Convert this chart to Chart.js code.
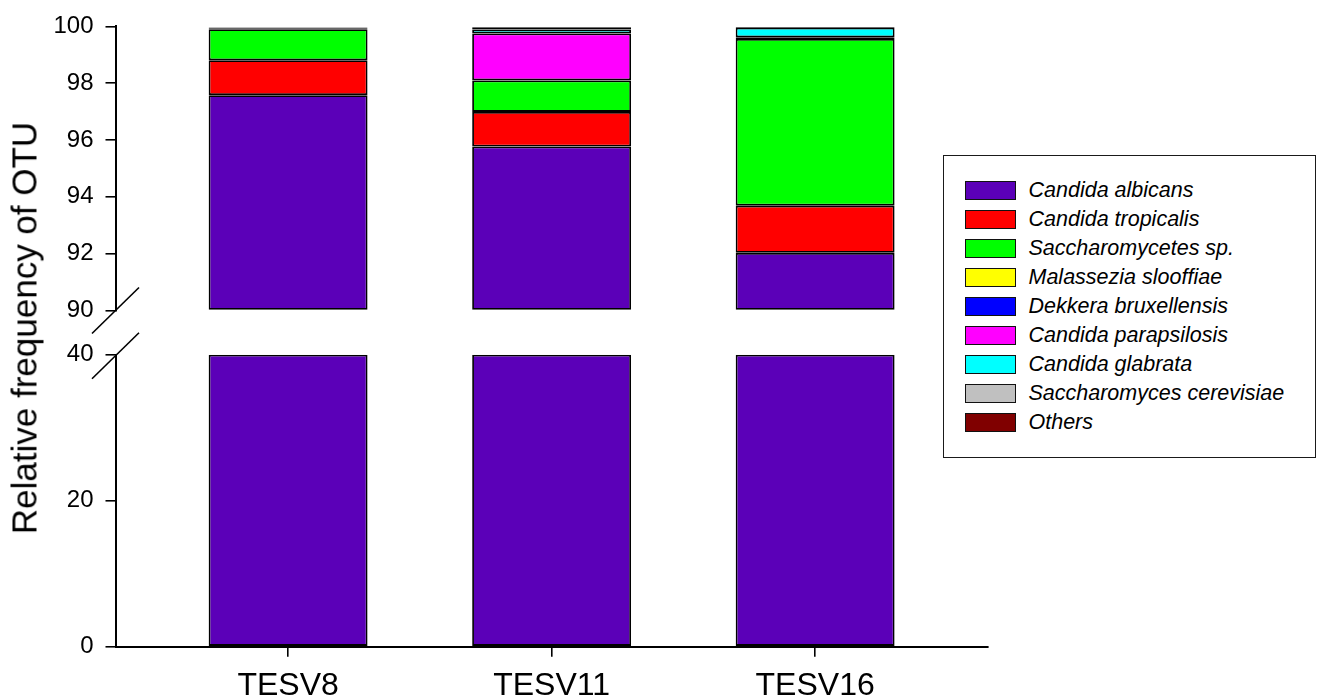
<!DOCTYPE html>
<html>
<head>
<meta charset="utf-8">
<title>Relative frequency of OTU</title>
<script src="https://cdn.jsdelivr.net/npm/chart.js@4.4.1/dist/chart.umd.min.js"></script>
<style>
  html, body { margin: 0; padding: 0; background: #fff; }
  #wrap { position: relative; width: 1322px; height: 699px; overflow: hidden;
          font-family: "Liberation Sans", Arial, sans-serif; color: #000; }
  #wrap canvas { position: absolute; left: 0; top: 0; }
  #ytitle { position: absolute; left: 23.5px; top: 327.5px; white-space: nowrap;
            transform: translate(-50%, -50%) rotate(-90deg); font-size: 35px; line-height: 1; }
  #legend { position: absolute; left: 943px; top: 155px; width: 373px; height: 303px;
            border: 1.5px solid #1a1a1a; box-sizing: border-box; background: #fff; }
  .item { position: absolute; left: 20.5px; height: 19px; display: flex; align-items: center; }
  .sw { width: 51px; height: 19px; border: 1.5px solid #111; box-sizing: border-box; }
  .lab { margin-left: 13px; font-style: italic; font-size: 21.5px; white-space: nowrap; }
</style>
</head>
<body>
<div id="wrap">
  <canvas id="upper" width="1322" height="699"></canvas>
  <canvas id="lower" width="1322" height="699"></canvas>
  <div id="ytitle">Relative frequency of OTU</div>
  <div id="legend"></div>
</div>
<script>
// Samples on the x axis
const categories = ['TESV8', 'TESV11', 'TESV16'];

// Species in stacking order (bottom to top) and their fill colours
const species = [
  'Candida albicans', 'Candida tropicalis', 'Saccharomycetes sp.',
  'Malassezia slooffiae', 'Dekkera bruxellensis', 'Candida parapsilosis',
  'Candida glabrata', 'Saccharomyces cerevisiae', 'Others'
];
const speciesColors = [
  '#5b00b8', '#ff0000', '#00ff00', '#ffff00', '#0000ff',
  '#ff00ff', '#00ffff', '#c0c0c0', '#800000'
];

// Relative frequency (%) per sample
const candidaAlbicans         = [97.58, 95.77, 92.03];
const candidaTropicalis       = [1.23, 1.22, 1.66];
const saccharomycetesSp       = [1.09, 1.11, 5.87];
const malasseziaSlooffiae     = [0, 0, 0];
const dekkeraBruxellensis     = [0, 0, 0.06];
const candidaParapsilosis     = [0, 1.65, 0];
const candidaGlabrata         = [0.02, 0.14, 0.33];
const saccharomycesCerevisiae = [0, 0.02, 0];
const others                  = [0.04, 0.06, 0.03];

const seriesValues = [
  candidaAlbicans, candidaTropicalis, saccharomycetesSp, malasseziaSlooffiae,
  dekkeraBruxellensis, candidaParapsilosis, candidaGlabrata,
  saccharomycesCerevisiae, others
];

// Tick labels of the two segments of the broken y axis
const upperTicks = [90, 92, 94, 96, 98, 100];
const lowerTicks = [0, 20, 40];

Chart.defaults.font.family = '"Liberation Sans", Arial, sans-serif';
Chart.defaults.color = '#000';
Chart.defaults.animation = false;

const FONT_TICK = { size: 24 };
const FONT_CAT = { size: 32 };

// Diagonal break mark across the y axis
const axisBreak = {
  id: 'axisBreak',
  afterDraw(chart, args, opts) {
    const { ctx, chartArea } = chart;
    const x = chartArea.left;
    const y = opts.edge === 'bottom' ? chartArea.bottom : chartArea.top + 1;
    ctx.save();
    ctx.strokeStyle = '#000';
    ctx.lineWidth = 1.6;
    ctx.beginPath();
    ctx.moveTo(x - 23.5, y + 23);
    ctx.lineTo(x + 23.5, y - 23);
    ctx.stroke();
    ctx.restore();
  }
};

const toPoints = arr => arr.map((v, i) => ({ x: i + 1, y: v }));

const xScale = (show) => ({
  type: 'linear',
  min: 0.345,
  max: 3.656,
  offset: false,
  stacked: true,
  display: show,
  afterBuildTicks: s => { s.ticks = categories.map((c, i) => ({ value: i + 1 })); },
  afterFit: s => { if (show) s.height = 52.3; },
  ticks: {
    font: FONT_CAT,
    padding: 10,
    maxRotation: 0,
    autoSkip: false,
    callback: v => categories[v - 1]
  },
  grid: {
    offset: false,
    drawOnChartArea: false,
    drawTicks: true,
    tickLength: 10,
    color: '#000',
    lineWidth: 1.6
  },
  border: { display: true, color: '#000', width: 2 }
});

const yScale = (min, max, ticksArr, stacked) => ({
  min, max, stacked,
  afterBuildTicks: s => { s.ticks = ticksArr.map(v => ({ value: v })); },
  afterFit: s => { s.width = 115.5; },
  ticks: { font: FONT_TICK, padding: 12 },
  grid: {
    drawOnChartArea: false,
    drawTicks: true,
    tickLength: 10,
    color: '#000',
    lineWidth: 1.6
  },
  border: { display: true, color: '#000', width: 2 }
});

const barStyle = {
  borderColor: '#000',
  borderWidth: 1.8,
  borderSkipped: false,
  categoryPercentage: 1,
  barPercentage: 0.603
};

// Upper segment: 90–100 %, all species stacked
new Chart(document.getElementById('upper'), {
  type: 'bar',
  data: {
    datasets: species.map((name, k) => Object.assign({
      label: name,
      data: toPoints(seriesValues[k]),
      backgroundColor: speciesColors[k],
      base: k === 0 ? upperTicks[0] : undefined
    }, barStyle))
  },
  options: {
    responsive: false,
    layout: { padding: { left: 0, top: 19.5, right: 334, bottom: 388.5 } },
    plugins: { legend: { display: false }, tooltip: { enabled: false }, axisBreak: { edge: 'bottom' } },
    scales: { x: xScale(false), y: yScale(90, 100, upperTicks, true) }
  },
  plugins: [axisBreak]
});

// Lower segment: 0–40 %, only the base of the dominant species is visible
const lowerMax = lowerTicks[lowerTicks.length - 1];
new Chart(document.getElementById('lower'), {
  type: 'bar',
  data: {
    datasets: [Object.assign({
      label: species[0],
      data: toPoints(candidaAlbicans.map(v => Math.min(v, lowerMax))),
      backgroundColor: speciesColors[0]
    }, barStyle)]
  },
  options: {
    responsive: false,
    layout: { padding: { left: 0, top: 354.7, right: 334, bottom: 0 } },
    plugins: { legend: { display: false }, tooltip: { enabled: false }, axisBreak: { edge: 'top' } },
    scales: { x: xScale(true), y: yScale(0, lowerMax, lowerTicks, false) }
  },
  plugins: [axisBreak]
});

// Legend
const legend = document.getElementById('legend');
species.forEach((name, k) => {
  const item = document.createElement('div');
  item.className = 'item';
  item.style.top = (24.5 + k * 29.1) + 'px';
  const sw = document.createElement('div');
  sw.className = 'sw';
  sw.style.background = speciesColors[k];
  const lab = document.createElement('span');
  lab.className = 'lab';
  lab.textContent = name;
  item.appendChild(sw);
  item.appendChild(lab);
  legend.appendChild(item);
});
</script>
</body>
</html>
